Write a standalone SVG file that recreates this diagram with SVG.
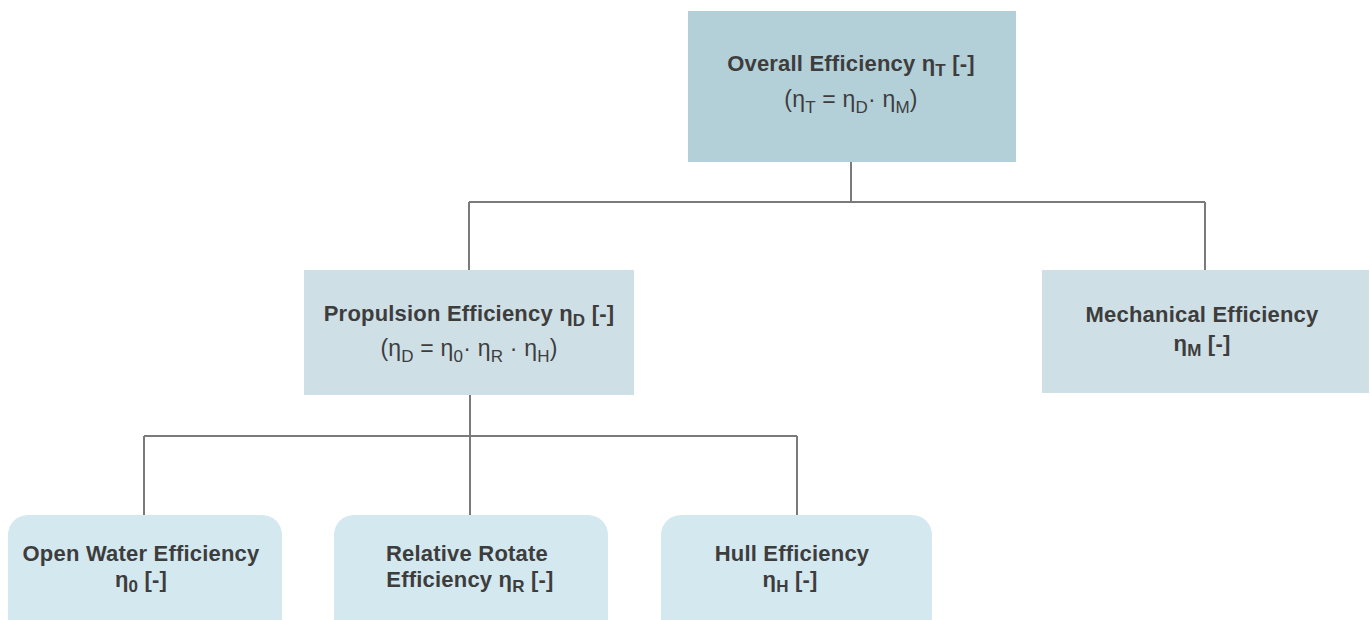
<svg xmlns="http://www.w3.org/2000/svg" width="1370" height="620" viewBox="0 0 1370 620">
  <style>
    text { font-family: "Liberation Sans", Arial, sans-serif; font-size: 22px; fill: #3d3d3d; text-anchor: middle; letter-spacing: 0.2px; }
    .b { font-weight: bold; }
    .f { font-size: 23px; }
    .sub { font-size: 17px; }
    .wire { fill: none; stroke: #7a7a7a; stroke-width: 2; }
    .top { fill: #b3cfd8; }
    .mid { fill: #cedfe5; }
    .leaf { fill: #d4e8ef; }
  </style>
  <rect width="1370" height="620" fill="#ffffff"/>

  <!-- tree connectors -->
  <g id="connectors">
    <path class="wire" d="M851 161 V202 M469 202 H1205 M469 202 V270 M1205 202 V270"/>
    <path class="wire" d="M470 395 V515 M144 436 H797 M144 436 V515 M797 436 V515"/>
  </g>

  <g id="overall">
    <rect class="top" x="688" y="11" width="328" height="151"/>
    <text class="b" x="851" y="71">Overall Efficiency η<tspan class="sub" dy="5">T</tspan><tspan dy="-5"> [-]</tspan></text>
    <text class="f" x="851" y="107">(η<tspan class="sub" dy="6">T</tspan><tspan dy="-6"> = η</tspan><tspan class="sub" dy="6">D</tspan><tspan dy="-6">· η</tspan><tspan class="sub" dy="6">M</tspan><tspan dy="-6">)</tspan></text>
  </g>

  <g id="propulsion">
    <rect class="mid" x="304" y="270" width="330" height="125"/>
    <text class="b" x="469" y="321">Propulsion Efficiency η<tspan class="sub" dy="5">D</tspan><tspan dy="-5"> [-]</tspan></text>
    <text class="f" x="469" y="356">(η<tspan class="sub" dy="6">D</tspan><tspan dy="-6"> = η</tspan><tspan class="sub" dy="6">0</tspan><tspan dy="-6">· η</tspan><tspan class="sub" dy="6">R</tspan><tspan dy="-6"> · η</tspan><tspan class="sub" dy="6">H</tspan><tspan dy="-6">)</tspan></text>
  </g>

  <g id="mechanical">
    <rect class="mid" x="1042" y="270" width="327" height="123"/>
    <text class="b" x="1202" y="322">Mechanical Efficiency</text>
    <text class="b" x="1202" y="351">η<tspan class="sub" dy="5">M</tspan><tspan dy="-5"> [-]</tspan></text>
  </g>

  <g id="open-water">
    <rect class="leaf" x="8" y="515" width="274" height="130" rx="20"/>
    <text class="b" x="141" y="561">Open Water Efficiency</text>
    <text class="b" x="141" y="587">η<tspan class="sub" dy="5">0</tspan><tspan dy="-5"> [-]</tspan></text>
  </g>

  <g id="relative-rotate">
    <rect class="leaf" x="334" y="515" width="274" height="130" rx="20"/>
    <text class="b" x="467" y="561">Relative Rotate</text>
    <text class="b" x="470" y="587">Efficiency η<tspan class="sub" dy="5">R</tspan><tspan dy="-5"> [-]</tspan></text>
  </g>

  <g id="hull">
    <rect class="leaf" x="661" y="515" width="271" height="130" rx="20"/>
    <text class="b" x="792" y="561">Hull Efficiency</text>
    <text class="b" x="790" y="587">η<tspan class="sub" dy="5">H</tspan><tspan dy="-5"> [-]</tspan></text>
  </g>
</svg>
